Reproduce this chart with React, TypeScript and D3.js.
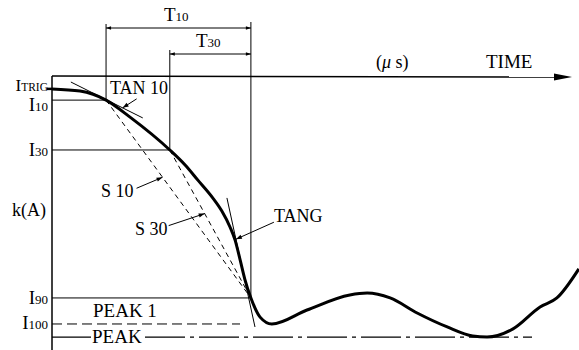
import React from 'react';
import * as d3 from 'd3';

const W = 579, H = 350;

// waveform: time (arbitrary µs units) vs current k(A), drawn downward
const curveTime = [0, 5.5, 10.6, 15.3, 23.1, 26.1, 28.6, 31.4, 33.3, 34.9, 35.9, 36.9, 37.8, 39.0, 40.8, 43.1, 50.0, 58.4, 61.8, 66.3, 71.6, 77.5, 82.5, 85.3, 90.4, 95.7, 99.0, 103.3];
const curveCurrent = [4.7, 5.5, 8.8, 15.0, 27.0, 32.5, 38.0, 44.2, 49.3, 55.1, 59.9, 67.2, 74.1, 81.0, 88.0, 90.5, 85.4, 79.9, 79.2, 81.0, 86.5, 91.6, 94.9, 95.3, 92.3, 84.3, 81.0, 70.4];

// current levels
const levelNames = ['TRIG', '10', '30', '90', '100', 'PEAK'];
const levelValues = [4.7, 8.8, 27.0, 81.0, 90.5, 95.3];
// time marks
const timeNames = ['10', '30', '90'];
const timeValues = [10.6, 23.1, 39.0];
// tangent lines [t, k] end points
const tan10 = [[3.7, 2.2], [17.8, 15.3]];
const tang = [[34.3, 44.5], [39.8, 91.6]];

const FONT = '"Liberation Serif", "DejaVu Serif", serif';

const App = () => {
  const x = d3.scaleLinear().domain([0, 100]).range([52, 562]);
  const y = d3.scaleLinear().domain([0, 100]).range([76, 350]);

  const lv = (n: string) => y(levelValues[levelNames.indexOf(n)]);
  const tv = (n: string) => x(timeValues[timeNames.indexOf(n)]);

  const pts: [number, number][] = curveTime.map((t, i) => [x(t), y(curveCurrent[i])]);
  const line = d3.line().curve(d3.curveMonotoneX);

  const x0 = x(0);
  const t10 = tv('10'), t30 = tv('30'), t90 = tv('90');
  const i10 = lv('10'), i30 = lv('30'), i90 = lv('90'), i100 = lv('100'), ipk = lv('PEAK'), itrig = lv('TRIG');

  // point along a segment
  const along = (a: number[], b: number[], f: number) => [a[0] + (b[0] - a[0]) * f, a[1] + (b[1] - a[1]) * f];
  const s10a = [t10, i10], s10b = [t90, i90];
  const s30a = [t30, i30], s30b = [t90, i90];
  const tan10a = [x(tan10[0][0]), y(tan10[0][1])], tan10b = [x(tan10[1][0]), y(tan10[1][1])];
  const tangA = [x(tang[0][0]), y(tang[0][1])], tangB = [x(tang[1][0]), y(tang[1][1])];

  const tipS10 = along(s10a, s10b, 0.39);
  const tipS30 = along(s30a, s30b, 0.43);
  const tipTan10 = along(tan10a, tan10b, 0.72);
  const tipTang = along(tangA, tangB, 0.32);

  const leader = (from: number[], to: number[]) => (
    <line x1={from[0]} y1={from[1]} x2={to[0]} y2={to[1]} stroke="#000" strokeWidth={1} markerEnd="url(#ah)" />
  );

  const yLabel = (main: string, sub: string, yy: number) => (
    <text x={48} y={yy} textAnchor="end" fontFamily={FONT} fontSize={19}>
      {main}<tspan fontSize={13}>{sub}</tspan>
    </text>
  );

  return (
    <svg width={W} height={H} style={{ position: 'absolute', left: 0, top: 0, background: '#fff' }}>
      <defs>
        <marker id="ah" viewBox="0 0 10 10" refX={10} refY={5} markerWidth={8} markerHeight={6} orient="auto" markerUnits="userSpaceOnUse">
          <path d="M0,1.5L10,5L0,8.5z" fill="#000" />
        </marker>
        <marker id="ahs" viewBox="0 0 10 10" refX={10} refY={5} markerWidth={9} markerHeight={5} orient="auto-start-reverse" markerUnits="userSpaceOnUse">
          <path d="M0,1.5L10,5L0,8.5z" fill="#000" />
        </marker>
      </defs>

      {/* axes */}
      <line x1={x0} y1={76} x2={x0} y2={H} stroke="#000" strokeWidth={1.5} />
      <line x1={x0} y1={76} x2={x(100)} y2={77} stroke="#000" strokeWidth={1.5} />
      <path d={`M${x(100) + 10},77L${x(100) - 8},73.5L${x(100) - 8},80.5z`} fill="#000" />

      {/* reference levels */}
      <line x1={x0} y1={i10} x2={t10} y2={i10} stroke="#000" strokeWidth={1} />
      <line x1={x0} y1={i30} x2={t30} y2={i30} stroke="#000" strokeWidth={1} />
      <line x1={x0} y1={i90} x2={t90} y2={i90} stroke="#000" strokeWidth={1} />
      <line x1={x0} y1={i100} x2={240} y2={i100} stroke="#000" strokeWidth={1} strokeDasharray="10,5" />
      <line x1={x0} y1={ipk} x2={91} y2={ipk} stroke="#000" strokeWidth={1.2} />
      <line x1={145} y1={ipk} x2={532} y2={ipk} stroke="#000" strokeWidth={1.2} strokeDasharray="40,5,4,5" />
      <line x1={47} y1={itrig} x2={x0} y2={itrig} stroke="#000" strokeWidth={2.5} />

      {/* time verticals */}
      <line x1={t10} y1={24} x2={t10} y2={i10} stroke="#000" strokeWidth={1} />
      <line x1={t30} y1={50} x2={t30} y2={i30} stroke="#000" strokeWidth={1} />
      <line x1={t90} y1={22} x2={t90} y2={i90} stroke="#000" strokeWidth={1} />

      {/* dimension arrows */}
      <line x1={t10} y1={28} x2={t90} y2={28} stroke="#000" strokeWidth={1} markerStart="url(#ahs)" markerEnd="url(#ahs)" />
      <line x1={t30} y1={54} x2={t90} y2={54} stroke="#000" strokeWidth={1} markerStart="url(#ahs)" markerEnd="url(#ahs)" />
      <text x={164} y={21} fontFamily={FONT} fontSize={19}>T<tspan fontSize={13}>10</tspan></text>
      <text x={196} y={47} fontFamily={FONT} fontSize={19}>T<tspan fontSize={13}>30</tspan></text>

      {/* secants and tangents */}
      <line x1={s10a[0]} y1={s10a[1]} x2={s10b[0]} y2={s10b[1]} stroke="#000" strokeWidth={1} strokeDasharray="5,4" />
      <line x1={s30a[0]} y1={s30a[1]} x2={s30b[0]} y2={s30b[1]} stroke="#000" strokeWidth={1} strokeDasharray="5,4" />
      <line x1={tan10a[0]} y1={tan10a[1]} x2={tan10b[0]} y2={tan10b[1]} stroke="#000" strokeWidth={1} />
      <line x1={tangA[0]} y1={tangA[1]} x2={tangB[0]} y2={tangB[1]} stroke="#000" strokeWidth={1} />

      {/* waveform */}
      <path d={line(pts) || ''} fill="none" stroke="#000" strokeWidth={3} strokeLinejoin="round" />

      {/* annotation leaders */}
      {leader([tipTan10[0] + 14, tipTan10[1] - 9], tipTan10)}
      {leader([tipS10[0] - 26, tipS10[1] + 11], tipS10)}
      {leader([tipS30[0] - 36, tipS30[1] + 12], tipS30)}
      {leader([tipTang[0] + 38, tipTang[1] - 17], tipTang)}

      <text x={110} y={94} fontFamily={FONT} fontSize={18}>TAN 10</text>
      <text x={101} y={197} fontFamily={FONT} fontSize={18}>S 10</text>
      <text x={135} y={235} fontFamily={FONT} fontSize={18}>S 30</text>
      <text x={274} y={222} fontFamily={FONT} fontSize={18}>TANG</text>

      {/* y labels */}
      <text x={48} y={91} textAnchor="end" fontFamily={FONT} fontSize={17}>I<tspan fontSize={11.5}>TRIG</tspan></text>
      {yLabel('I', '10', i10 + 11)}
      {yLabel('I', '30', i30 + 6)}
      {yLabel('I', '90', i90 + 6)}
      {yLabel('I', '100', i100 + 5)}
      <text x={46} y={216} textAnchor="end" fontFamily={FONT} fontSize={18}>k(A)</text>
      <text x={93} y={317} fontFamily={FONT} fontSize={19}>PEAK 1</text>
      <text x={92} y={343} fontFamily={FONT} fontSize={19}>PEAK</text>

      {/* axis titles */}
      <text x={376} y={68} fontFamily={FONT} fontSize={18}>(<tspan fontStyle="italic">μ</tspan> s)</text>
      <text x={486} y={68} fontFamily={FONT} fontSize={19}>TIME</text>
    </svg>
  );
};

export default App;
